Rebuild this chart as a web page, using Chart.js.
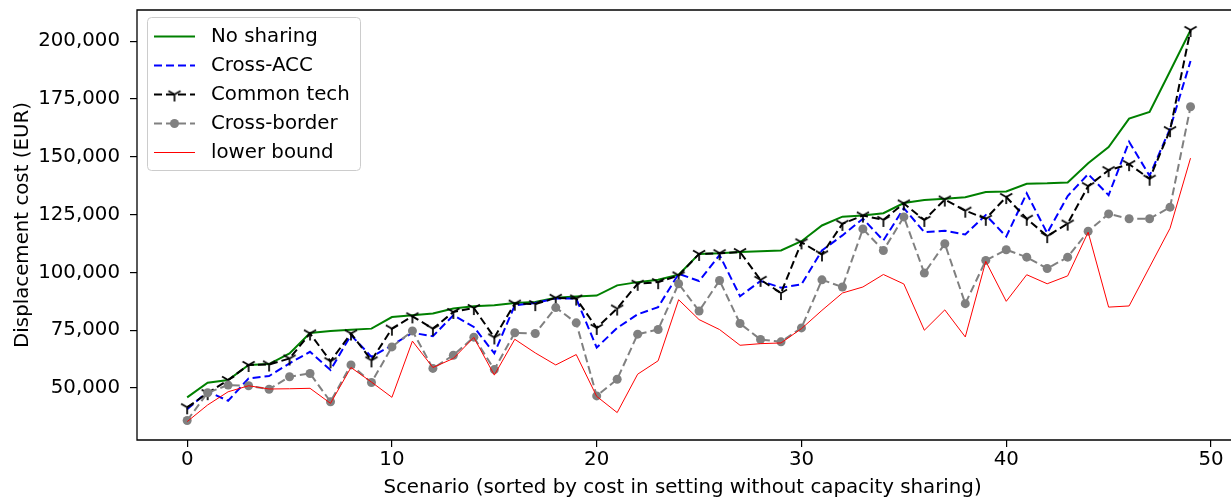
<!DOCTYPE html>
<html>
<head>
<meta charset="utf-8">
<script src="https://cdn.jsdelivr.net/npm/chart.js@4.4.1/dist/chart.umd.min.js"></script>
<style>
html,body{margin:0;padding:0;background:#fff;}
canvas{display:block;}
</style>
</head>
<body>
<canvas id="c" width="1231" height="500"></canvas>
<script>
const scenarios = [0,1,2,3,4,5,6,7,8,9,10,11,12,13,14,15,16,17,18,19,20,21,22,23,24,25,26,27,28,29,30,31,32,33,34,35,36,37,38,39,40,41,42,43,44,45,46,47,48,49];
const noSharing = [46000,52300,53500,60000,60400,65000,73800,74700,75200,75700,80700,81500,82200,84400,85400,85800,86800,87200,89000,89600,90000,94400,95800,96800,99000,108000,108300,108800,109200,109500,113500,120300,124100,124600,125600,130000,131300,131800,132500,134800,135000,138300,138500,138900,147200,154200,166500,169400,187000,204700];
const crossAcc = [40800,48500,44500,54200,55200,60700,65700,57800,72900,63500,68500,73900,72400,81500,76400,65000,85800,86800,88700,88700,67500,76000,81900,85000,99400,96300,107500,89700,96300,93400,94800,109500,116000,123200,113800,127800,117400,118000,116400,124800,115500,134200,117000,133000,142500,133400,156500,141800,162200,191400];
const commonTech = [41700,47800,53500,60000,60200,62800,73600,61600,73600,62000,75700,81000,75700,82900,84600,71900,86500,86300,89000,88700,76000,84400,95100,95800,98700,108000,108300,108800,96800,91100,113000,107800,121000,124600,122700,129800,122700,131500,126700,123200,132600,123200,115700,121100,137300,144200,146800,140500,161500,204800];
const crossBorder = [36000,48000,51300,51000,49500,54900,56300,44100,60000,52400,67800,74700,58500,64200,72000,58000,73900,73600,84800,78200,46600,53800,73300,75300,95100,83300,96500,77900,71000,70000,76000,96800,93700,118800,109500,124000,99700,112400,86500,105200,109800,106600,101700,106600,117800,125300,123200,123200,128200,171600];
const lowerBound = [35500,42700,48400,51000,49600,49700,49900,43400,58900,52600,46000,70300,58900,62800,71900,55600,71100,65200,60000,64500,46400,39400,56000,61800,88200,79600,75300,68500,69200,69500,75700,83600,91100,93700,99100,95000,75000,83800,72100,104800,87500,99000,95100,98500,117400,85000,85500,102300,119100,149400];
const xTicks = [0,10,20,30,40,50];
const yTicks = [50000,75000,100000,125000,150000,175000,200000];
const seriesNames = ['No sharing','Cross-ACC','Common tech','Cross-border','lower bound'];

const FONT = "'DejaVu Sans', sans-serif";
const FS = 19.8;
Chart.defaults.color = '#000';
Chart.defaults.font.family = FONT;
Chart.defaults.font.size = FS;

// tri_down marker
const tri = document.createElement('canvas');
tri.width = 20; tri.height = 20;
(function(){
  const g = tri.getContext('2d');
  const r = 7, cx = 10, cy = 10;
  g.strokeStyle = '#000'; g.lineWidth = 1.7;
  g.beginPath();
  g.moveTo(cx, cy); g.lineTo(cx, cy + r);
  g.moveTo(cx, cy); g.lineTo(cx - r*Math.cos(Math.PI/6), cy - r*Math.sin(Math.PI/6));
  g.moveTo(cx, cy); g.lineTo(cx + r*Math.cos(Math.PI/6), cy - r*Math.sin(Math.PI/6));
  g.stroke();
})();

function pts(arr){ return scenarios.map((x,i)=>({x:x, y:arr[i]})); }

const datasets = [
  {label: seriesNames[0], data: pts(noSharing), borderColor:'#008000', borderWidth:2, pointRadius:0, order:5},
  {label: seriesNames[1], data: pts(crossAcc), borderColor:'#0000ff', borderWidth:2, borderDash:[8,4], pointRadius:0, order:4},
  {label: seriesNames[2], data: pts(commonTech), borderColor:'#000000', borderWidth:2, borderDash:[8,4], pointStyle: tri, pointRadius:6, order:3},
  {label: seriesNames[3], data: pts(crossBorder), borderColor:'#808080', borderWidth:2, borderDash:[8,4], pointStyle:'circle', pointRadius:4.5, pointBorderWidth:0, pointBackgroundColor:'#808080', pointBorderColor:'#808080', order:2},
  {label: seriesNames[4], data: pts(lowerBound), borderColor:'#ff0000', borderWidth:1, pointRadius:0, order:1}
];
datasets.forEach(d=>{ d.fill=false; d.tension=0; d.backgroundColor=d.borderColor; });

const framePlugin = {
  id:'frame',
  afterDatasetsDraw(chart){
    const {ctx, chartArea:a, width} = chart;
    ctx.save();
    ctx.strokeStyle = '#000'; ctx.lineWidth = 1.3;
    ctx.beginPath();
    ctx.moveTo(width, a.top); ctx.lineTo(a.left, a.top); ctx.lineTo(a.left, a.bottom); ctx.lineTo(width, a.bottom);
    ctx.stroke();
    ctx.restore();
  },
  afterDraw(chart){
    const ctx = chart.ctx;
    ctx.save();
    const bx = 147.5, by = 17.5, bw = 213, bh = 153, rr = 4;
    ctx.beginPath();
    ctx.moveTo(bx+rr, by); ctx.lineTo(bx+bw-rr, by); ctx.arcTo(bx+bw, by, bx+bw, by+rr, rr);
    ctx.lineTo(bx+bw, by+bh-rr); ctx.arcTo(bx+bw, by+bh, bx+bw-rr, by+bh, rr);
    ctx.lineTo(bx+rr, by+bh); ctx.arcTo(bx, by+bh, bx, by+bh-rr, rr);
    ctx.lineTo(bx, by+rr); ctx.arcTo(bx, by, bx+rr, by, rr);
    ctx.closePath();
    ctx.fillStyle = 'rgba(255,255,255,0.8)'; ctx.fill();
    ctx.strokeStyle = '#cccccc'; ctx.lineWidth = 1; ctx.stroke();
    const rows = [36.5, 65.5, 94.5, 123.5, 152.5];
    chart.data.datasets.forEach((d, i)=>{
      const y = rows[i];
      ctx.save();
      ctx.strokeStyle = d.borderColor; ctx.lineWidth = d.borderWidth;
      ctx.setLineDash(d.borderDash || []);
      ctx.beginPath(); ctx.moveTo(154, y); ctx.lineTo(195, y); ctx.stroke();
      ctx.restore();
      if (d.pointStyle === tri) ctx.drawImage(tri, 174.5-10, y-10);
      if (d.pointStyle === 'circle') { ctx.fillStyle = d.pointBackgroundColor; ctx.beginPath(); ctx.arc(174.5, y, 4.5, 0, Math.PI*2); ctx.fill(); }
      ctx.fillStyle = '#000'; ctx.font = FS + 'px ' + FONT;
      ctx.textBaseline = 'middle'; ctx.textAlign = 'left';
      ctx.fillText(d.label, 211, y);
    });
    ctx.restore();
  }
};

function zeroPad(s){ s.paddingTop = 0; s.paddingBottom = 0; s.paddingLeft = 0; s.paddingRight = 0; }

new Chart(document.getElementById('c'), {
  type:'line',
  data:{datasets},
  options:{
    responsive:false, animation:false, events:[],
    layout:{autoPadding:false, padding:{top:10, right:3, left:0, bottom:0}},
    plugins:{legend:{display:false}, tooltip:{enabled:false}},
    scales:{
      x:{
        type:'linear', min:-2.45, max:50.83,
        afterBuildTicks(s){ s.ticks = xTicks.map(v=>({value:v})); },
        afterFit(s){ s.height = 60; zeroPad(s); },
        grid:{display:true, drawOnChartArea:false, drawTicks:true, tickLength:7, color:'#000', lineWidth:1.2},
        border:{display:false},
        ticks:{padding:1, color:'#000', maxRotation:0, autoSkip:false, callback:v=>String(v)},
        title:{display:true, text:'Scenario (sorted by cost in setting without capacity sharing)', color:'#000', padding:{top:0,bottom:0}, font:{size:FS}}
      },
      y:{
        type:'linear', min:27550, max:213450,
        afterBuildTicks(s){ s.ticks = yTicks.map(v=>({value:v})); },
        afterFit(s){ s.width = 137; zeroPad(s); },
        grid:{display:true, drawOnChartArea:false, drawTicks:true, tickLength:7, color:'#000', lineWidth:1.2},
        border:{display:false},
        ticks:{padding:10, color:'#000', autoSkip:false, callback:v=>Number(v).toLocaleString('en-US')},
        title:{display:true, text:'Displacement cost (EUR)', color:'#000', padding:{top:11,bottom:0}, font:{size:FS}}
      }
    }
  },
  plugins:[framePlugin]
});
</script>
</body>
</html>
